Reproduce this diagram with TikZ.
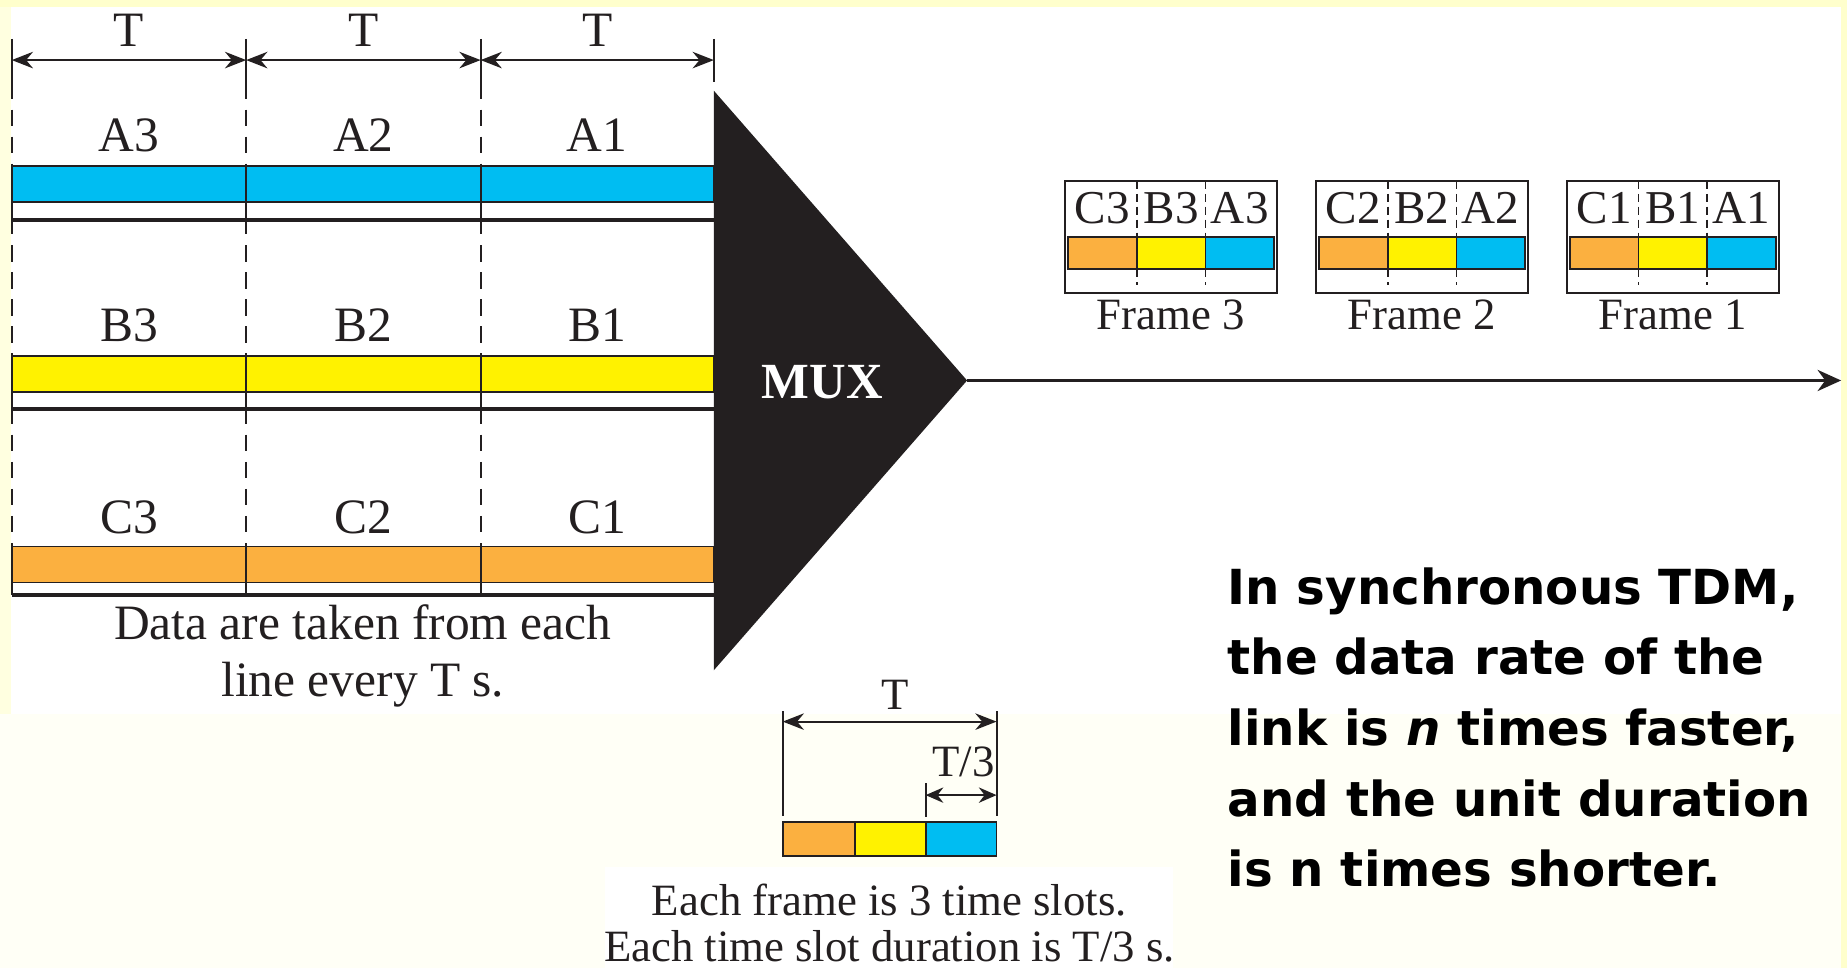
\documentclass[tikz,border=0pt]{standalone}
\usepackage{fontspec}
\setmainfont{Liberation Serif}
\newfontfamily\notefont{DejaVu Sans}
\usetikzlibrary{arrows.meta}

\definecolor{ink}{RGB}{35,31,32}
\definecolor{slotblue}{RGB}{0,189,242}
\definecolor{slotyellow}{RGB}{255,242,0}
\definecolor{slotorange}{RGB}{251,176,64}
\definecolor{pageyellow}{RGB}{255,255,204}
\definecolor{pageside}{RGB}{255,255,224}
\definecolor{pagecream}{RGB}{255,255,246}

\begin{document}
\begin{tikzpicture}[x=1pt,y=-1pt,
  lbl/.style={anchor=base, inner sep=0pt, text=ink, font=\fontsize{42}{42}\selectfont},
  slotlbl/.style={anchor=base, inner sep=0pt, text=ink, font=\fontsize{40}{40}\selectfont},
  smalllbl/.style={anchor=base, inner sep=0pt, text=ink, font=\fontsize{38}{38}\selectfont},
  dimarrow/.style={draw=ink, line width=1.7pt,
    {Stealth[length=18pt,width=14pt]}-{Stealth[length=18pt,width=14pt]}},
  smallarrow/.style={draw=ink, line width=1.7pt,
    {Stealth[length=15pt,width=13pt]}-{Stealth[length=15pt,width=13pt]}},
  tick/.style={draw=ink, line width=1.7pt},
  gridline/.style={draw=ink, line width=1.8pt, dash pattern=on 14pt off 9pt},
  slot/.style={draw=ink, line width=1.5pt},
  trackline/.style={draw=ink, line width=3pt},
  framebox/.style={draw=ink, line width=1.9pt},
  framedash/.style={draw=ink, line width=1.5pt, dash pattern=on 7pt off 4pt},
  note/.style={anchor=base west, inner sep=0pt, text=black,
    font=\notefont\bfseries\fontsize{41}{41}\selectfont}
]
\useasboundingbox (0,0) rectangle (1568,822);

% page background: yellow rim, cream lower part, white panel
\fill[pagecream] (0,0) rectangle (1568,822);
\fill[pageyellow] (0,0) rectangle (1568,6);
\fill[pageyellow] (1563,0) rectangle (1568,822);
\fill[pageside] (0,6) rectangle (9,606);
\fill[white] (9,6) rectangle (1563,606);
\fill[white] (514,736) rectangle (996,822);

% column boundaries of the input lines
\coordinate (c0) at (10,51);
\coordinate (c1) at (209,51);
\coordinate (c2) at (408,51);
\coordinate (c3) at (606,51);

% time grid: solid ticks at the top, dashed below
\foreach \x in {10,209,408,606}
  \draw[tick] (\x,33) -- (\x,70);
\foreach \x in {10,209,408}
  \draw[gridline] (\x,70) -- (\x,505);

% period arrows
\draw[dimarrow] (c0) -- (c1);
\draw[dimarrow] (c1) -- (c2);
\draw[dimarrow] (c2) -- (c3);
\node[lbl] (tA) at (109.5,39.6) {T};
\node[lbl] (tB) at (308.5,39.6) {T};
\node[lbl] (tC) at (507,39.6) {T};

% the three input lines
\foreach \ch/\top/\bot/\trk/\lb/\col in {A/140.6/171.8/186.8/128.8/slotblue,
                                        B/302.2/332.5/347.2/290/slotyellow,
                                        C/464/494.6/505/452.8/slotorange}{
  \fill[\col] (10,\top) rectangle (606,\bot);
  \draw[slot] (10,\top) rectangle (606,\bot);
  \draw[tick] (10,\top) -- (10,\trk) (209,\top) -- (209,\trk) (408,\top) -- (408,\trk);
  \draw[trackline] (10,\trk) -- (606,\trk);
  \node[lbl] (\ch3) at (109.5,\lb) {\ch3};
  \node[lbl] (\ch2) at (308.5,\lb) {\ch2};
  \node[lbl] (\ch1) at (507,\lb) {\ch1};
}

\node[lbl] (take1) at (308,543) {Data are taken from each};
\node[lbl] (take2) at (308,591) {line every T s.};

% multiplexer
\coordinate (apex) at (821,323);
\coordinate (linkend) at (1563,323);
\fill[ink] (606,77) -- (apex) -- (606,569) -- cycle;
\node[anchor=base, inner sep=0pt, text=white,
      font=\bfseries\fontsize{43}{43}\selectfont] (mux) at (698,338) {MUX};
\draw[draw=ink, line width=2.3pt, -{Stealth[length=20pt,width=18pt]}] (apex) -- (linkend);

% frames on the link
\foreach \fx/\k in {904/3,1117/2,1330/1}{
  \draw[framedash] (\fx+61,153.5) -- (\fx+61,201.5) (\fx+119.4,153.5) -- (\fx+119.4,201.5);
  \draw[framedash] (\fx+61,228.5) -- (\fx+61,242) (\fx+119.4,228.5) -- (\fx+119.4,242);
  \fill[slotorange] (\fx+2.6,201.5) rectangle (\fx+61,228.5);
  \fill[slotyellow] (\fx+61,201.5) rectangle (\fx+119.4,228.5);
  \fill[slotblue] (\fx+119.4,201.5) rectangle (\fx+177.6,228.5);
  \draw[framebox] (\fx+2.6,201.5) rectangle (\fx+177.6,228.5);
  \draw[slot] (\fx+61,201.5) -- (\fx+61,228.5) (\fx+119.4,201.5) -- (\fx+119.4,228.5);
  \draw[framebox] (\fx,153.5) rectangle (\fx+180,248.5);
  \node[slotlbl] (fc\k) at (\fx+31.8,189.6) {C\k};
  \node[slotlbl] (fb\k) at (\fx+90.2,189.6) {B\k};
  \node[slotlbl] (fa\k) at (\fx+148.5,189.6) {A\k};
  \node[smalllbl] (frame\k) at (\fx+90,280) {Frame \k};
}

% one frame and its time slots
\coordinate (sl) at (664.5,612.6);
\coordinate (sr) at (846,612.6);
\coordinate (ql) at (785.8,675);
\coordinate (qr) at (846,675);
\draw[tick] (664.5,604) -- (664.5,693);
\draw[tick] (846,604) -- (846,693);
\draw[tick] (785.8,665) -- (785.8,693.5);
\draw[dimarrow] (sl) -- (sr);
\draw[smallarrow] (ql) -- (qr);
\node[smalllbl] (tframe) at (760,602.7) {T};
\node[smalllbl] (tslot) at (818,659) {T/3};
\fill[slotorange] (664.5,698) rectangle (725.8,727);
\fill[slotyellow] (725.8,698) rectangle (785.8,727);
\fill[slotblue] (785.8,698) rectangle (846,727);
\draw[slot] (664.5,698) rectangle (846,727);
\draw[slot] (725.8,698) -- (725.8,727) (785.8,698) -- (785.8,727);
\node[smalllbl] (each1) at (755,777) {Each frame is 3 time slots.};
\node[smalllbl] (each2) at (755,816) {Each time slot duration is T/3 s.};

% remark
\node[note] (rem1) at (1042,513) {In synchronous TDM,};
\node[note] (rem2) at (1042,573) {the data rate of the};
\node[note] (rem3) at (1042,633) {link is \textit{n} times faster,};
\node[note] (rem4) at (1042,693) {and the unit duration};
\node[note] (rem5) at (1042,753) {is n times shorter.};
\end{tikzpicture}
\end{document}
